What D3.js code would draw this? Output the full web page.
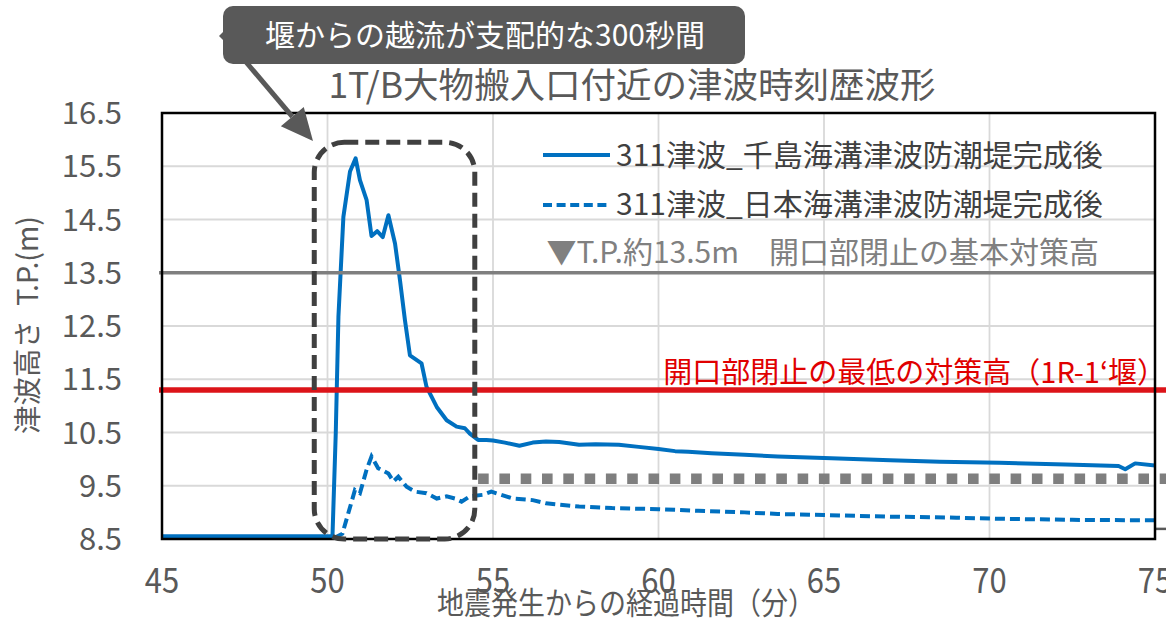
<!DOCTYPE html>
<html>
<head>
<meta charset="utf-8">
<script src="https://cdn.jsdelivr.net/npm/d3@7"></script>
<style>
  body { margin: 0; background: #fff; }
  text { font-family: "Noto Sans CJK JP", "Noto Sans", sans-serif; }
</style>
</head>
<body>
<script>
// ---- data ----
var timeA = [45, 50.15, 50.25, 50.33, 50.48, 50.68, 50.85, 50.98, 51.18, 51.33, 51.5, 51.67, 51.84, 52.04, 52.19, 52.34, 52.49, 52.84, 52.99, 53.3, 53.6, 53.9, 54.15, 54.3, 54.55, 54.8, 55.0, 55.36, 55.8, 56.2, 56.6, 57.0, 57.6, 58.1, 58.8, 59.4, 60.0, 60.5, 60.9, 61.6, 62.6, 63.6, 65, 67, 68.5, 70.3, 72.3, 73.9, 74.1, 74.4, 75];
var chishima = [8.55, 8.55, 10.5, 12.67, 14.55, 15.4, 15.65, 15.24, 14.87, 14.19, 14.28, 14.17, 14.58, 14.05, 13.36, 12.61, 11.95, 11.8, 11.36, 10.98, 10.73, 10.61, 10.58, 10.48, 10.36, 10.36, 10.35, 10.31, 10.25, 10.31, 10.33, 10.32, 10.27, 10.28, 10.27, 10.23, 10.19, 10.15, 10.14, 10.11, 10.08, 10.05, 10.02, 9.98, 9.95, 9.93, 9.9, 9.87, 9.81, 9.92, 9.88];

var timeB = [50.2, 50.45, 50.83, 50.98, 51.18, 51.33, 51.53, 51.84, 51.99, 52.14, 52.39, 52.64, 52.99, 53.3, 53.6, 53.85, 54.05, 54.3, 54.7, 54.95, 55.6, 56.2, 56.6, 57.6, 58.6, 60, 61.2, 62.6, 63.6, 65, 67, 69, 70.3, 72.5, 75];
var nihon = [8.52, 8.6, 9.42, 9.36, 9.8, 10.05, 9.83, 9.73, 9.58, 9.67, 9.48, 9.39, 9.36, 9.26, 9.3, 9.26, 9.2, 9.3, 9.33, 9.39, 9.26, 9.23, 9.17, 9.11, 9.08, 9.06, 9.03, 9.0, 8.97, 8.95, 8.92, 8.9, 8.88, 8.86, 8.85];

var xTicks = [45, 50, 55, 60, 65, 70, 75];
var yTicks = [8.5, 9.5, 10.5, 11.5, 12.5, 13.5, 14.5, 15.5, 16.5];

var baseHeight = 13.5;     // gray solid
var minHeight = 11.3;      // red
var dottedHeight = 9.63;   // gray dotted
var dottedStart = 54.55;
var sideMark = 8.69;
var boxRange = [49.6, 54.45]; // dashed box (minutes)
var boxTop = 15.95;

var legendLabels = ["311津波_千島海溝津波防潮堤完成後", "311津波_日本海溝津波防潮堤完成後"];
var baseLabel = "▼T.P.約13.5m　開口部閉止の基本対策高";
var minLabel = "開口部閉止の最低の対策高（1R-1‘堰）";
var title = "1T/B大物搬入口付近の津波時刻歴波形";
var callout = "堰からの越流が支配的な300秒間";

(function(){
var W = 1166, H = 618;
var pL = 162, pR = 1155, pT = 113, pB = 539;

var svg = d3.select("body").append("svg")
  .attr("width", W).attr("height", H);

var x = d3.scaleLinear().domain([45, 75]).range([pL, pR]);
var y = d3.scaleLinear().domain([8.5, 16.5]).range([pB, pT]);

// grid
svg.append("g").selectAll("line").data(xTicks.slice(1, -1)).enter().append("line")
  .attr("x1", function(d){ return x(d); }).attr("x2", function(d){ return x(d); })
  .attr("y1", pT).attr("y2", pB)
  .attr("stroke", "#d9d9d9").attr("stroke-width", 1.8);
svg.append("g").selectAll("line").data(yTicks.slice(1, -1)).enter().append("line")
  .attr("y1", function(d){ return y(d); }).attr("y2", function(d){ return y(d); })
  .attr("x1", pL).attr("x2", pR)
  .attr("stroke", "#d9d9d9").attr("stroke-width", 1.8);

// series
svg.append("clipPath").attr("id", "plot").append("rect")
  .attr("x", pL).attr("y", pT).attr("width", pR - pL).attr("height", pB - pT);

var line = d3.line()
  .x(function(d){ return x(d[0]); })
  .y(function(d){ return y(d[1]); });

var lines = svg.append("g").attr("clip-path", "url(#plot)");
lines.append("path")
  .datum(d3.zip(timeB, nihon))
  .attr("d", line)
  .attr("fill", "none").attr("stroke", "#0070c0").attr("stroke-width", 4)
  .attr("stroke-dasharray", "10,5");
lines.append("path")
  .datum(d3.zip(timeA, chishima))
  .attr("d", line)
  .attr("fill", "none").attr("stroke", "#0070c0").attr("stroke-width", 4)
  .attr("stroke-linejoin", "round");

// reference lines
svg.append("line")
  .attr("x1", x(dottedStart)).attr("x2", W)
  .attr("y1", y(dottedHeight)).attr("y2", y(dottedHeight))
  .attr("stroke", "#7f7f7f").attr("stroke-width", 10.5)
  .attr("stroke-dasharray", "10.6,10.7");
svg.append("line")
  .attr("x1", pL - 3).attr("x2", pR)
  .attr("y1", y(baseHeight)).attr("y2", y(baseHeight))
  .attr("stroke", "#7f7f7f").attr("stroke-width", 3.5);
svg.append("line")
  .attr("x1", pL - 3).attr("x2", W)
  .attr("y1", y(minHeight)).attr("y2", y(minHeight))
  .attr("stroke", "#dc1419").attr("stroke-width", 5.5);
svg.append("line")
  .attr("x1", pR).attr("x2", W)
  .attr("y1", y(sideMark)).attr("y2", y(sideMark))
  .attr("stroke", "#595959").attr("stroke-width", 2.5);

// frame
svg.append("rect")
  .attr("x", pL).attr("y", pT).attr("width", pR - pL).attr("height", pB - pT)
  .attr("fill", "none").attr("stroke", "#000").attr("stroke-width", 2.5);

// axes labels
svg.append("g").selectAll("text").data(yTicks).enter().append("text")
  .attr("x", 122).attr("y", function(d){ return y(d); })
  .attr("dy", "0.36em")
  .attr("text-anchor", "end")
  .attr("font-size", 31).attr("fill", "#595959")
  .text(function(d){ return d.toFixed(1); });

svg.append("g").selectAll("text").data(xTicks).enter().append("text")
  .attr("transform", function(d){ return "translate(" + x(d) + ",580) scale(1,1.15)"; })
  .attr("dy", "0.36em")
  .attr("text-anchor", "middle")
  .attr("font-size", 31).attr("fill", "#595959")
  .text(function(d){ return d; });

svg.append("text")
  .attr("transform", "translate(626,603) scale(1,1.12)")
  .attr("dy", "0.36em").attr("text-anchor", "middle")
  .attr("font-size", 27).attr("fill", "#595959")
  .text("地震発生からの経過時間（分）");

svg.append("text")
  .attr("transform", "translate(28,325) rotate(-90)")
  .attr("dy", "0.36em").attr("text-anchor", "middle")
  .attr("font-size", 28.5).attr("fill", "#595959")
  .text("津波高さ\u2002T.P.(m)");

// title
svg.append("text")
  .attr("x", 632).attr("y", 85).attr("dy", "0.36em")
  .attr("text-anchor", "middle")
  .attr("font-size", 35.5).attr("fill", "#595959")
  .text(title);

// legend
var leg = svg.append("g");
leg.selectAll("line").data(legendLabels).enter().append("line")
  .attr("x1", 543).attr("x2", 610)
  .attr("y1", function(d, i){ return 155 + i * 50; })
  .attr("y2", function(d, i){ return 155 + i * 50; })
  .attr("stroke", "#0070c0").attr("stroke-width", 4)
  .attr("stroke-dasharray", function(d, i){ return i ? "9,4.6" : null; });
leg.selectAll("text").data(legendLabels).enter().append("text")
  .attr("x", 616)
  .attr("y", function(d, i){ return 155 + i * 49; })
  .attr("dy", "0.36em")
  .attr("font-size", 30).attr("fill", "#404040")
  .text(function(d){ return d; });
leg.append("text")
  .attr("x", 1099).attr("y", 252).attr("dy", "0.36em")
  .attr("text-anchor", "end")
  .attr("font-size", 30).attr("fill", "#808080")
  .text(baseLabel);

svg.append("text")
  .attr("x", 1166).attr("y", y(minHeight) - 17).attr("dy", "0.36em")
  .attr("text-anchor", "end")
  .attr("font-size", 29).attr("fill", "#e00000")
  .text(minLabel);

// dashed box
svg.append("rect")
  .attr("x", x(boxRange[0])).attr("y", y(boxTop))
  .attr("width", x(boxRange[1]) - x(boxRange[0]))
  .attr("height", y(8.5) - y(boxTop))
  .attr("rx", 30)
  .attr("fill", "none").attr("stroke", "#404040").attr("stroke-width", 5)
  .attr("stroke-dasharray", "14,7");

// callout
var c = svg.append("g");
c.append("rect")
  .attr("x", 223).attr("y", 6).attr("width", 522).attr("height", 58).attr("rx", 10)
  .attr("fill", "#595959");
c.append("path").attr("d", "M219,36 L225,30 L225,42 Z").attr("fill", "#595959");
var p0 = [246, 62], p1 = [313, 141];
var dx = p1[0] - p0[0], dy = p1[1] - p0[1], len = Math.sqrt(dx * dx + dy * dy);
var ux = dx / len, uy = dy / len, hl = 32, hw = 15;
var bx = p1[0] - ux * hl, by = p1[1] - uy * hl;
c.append("line")
  .attr("x1", p0[0]).attr("y1", p0[1]).attr("x2", bx).attr("y2", by)
  .attr("stroke", "#595959").attr("stroke-width", 5);
c.append("path")
  .attr("d", "M" + p1[0] + "," + p1[1] +
             " L" + (bx - uy * hw) + "," + (by + ux * hw) +
             " L" + (bx + uy * hw) + "," + (by - ux * hw) + " Z")
  .attr("fill", "#595959");
c.append("text")
  .attr("x", 485).attr("y", 35).attr("dy", "0.36em")
  .attr("text-anchor", "middle")
  .attr("font-size", 30).attr("fill", "#fff")
  .text(callout);
})();
</script>
</body>
</html>
